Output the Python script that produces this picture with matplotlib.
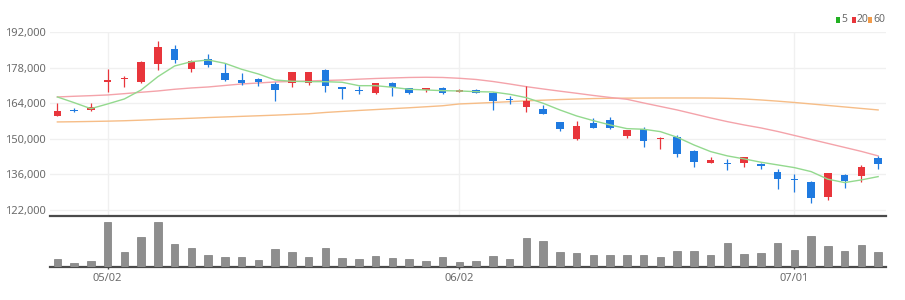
import matplotlib
matplotlib.use("Agg")
import matplotlib.pyplot as plt
from matplotlib.patches import Rectangle
from matplotlib.ticker import FuncFormatter, FixedLocator

plt.rcParams["font.family"] = ["Liberation Sans Narrow", "Noto Sans", "DejaVu Sans"]

# trading days (2022, KRX), MM/DD
dates = [
    "04/27", "04/28", "04/29", "05/02", "05/03", "05/04", "05/06", "05/09", "05/10", "05/11",
    "05/12", "05/13", "05/16", "05/17", "05/18", "05/19", "05/20", "05/23", "05/24", "05/25",
    "05/26", "05/27", "05/30", "05/31", "06/02", "06/03", "06/07", "06/08", "06/09", "06/10",
    "06/13", "06/14", "06/15", "06/16", "06/17", "06/20", "06/21", "06/22", "06/23", "06/24",
    "06/27", "06/28", "06/29", "06/30", "07/01", "07/04", "07/05", "07/06", "07/07", "07/08",
]
opens = [
    159100, 161300, 161300, 172300, 173500, 172200, 179400, 185200, 177400, 181300,
    176000, 173100, 173400, 171400, 171800, 171800, 177100, 170300, 169300, 167900,
    172100, 170000, 169100, 169900, 168400, 169200, 168100, 165800, 162400, 161600,
    156700, 149800, 156300, 157300, 151100, 153700, 149800, 150600, 145100, 140600,
    140500, 140600, 140100, 137100, 134200, 133100, 127200, 135900, 135500, 142600,
]
highs = [
    164200, 162000, 164000, 177300, 174800, 180600, 188500, 186900, 181000, 183300,
    179700, 175800, 173800, 172500, 176400, 176300, 177300, 170300, 170800, 172000,
    172400, 170100, 170100, 170300, 169400, 169700, 168500, 166900, 170900, 163200,
    156700, 157000, 158100, 158700, 153600, 154800, 150600, 151600, 145600, 142800,
    142200, 142900, 140400, 138000, 136000, 133500, 136400, 136000, 139700, 143200,
]
lows = [
    158900, 160400, 161000, 168500, 170300, 172000, 177000, 179700, 176400, 178100,
    172600, 171200, 170900, 165000, 170500, 171000, 168500, 165600, 167700, 167700,
    166900, 167800, 168400, 167500, 168200, 167900, 161200, 163700, 160500, 159700,
    153200, 149500, 154300, 153700, 150400, 146900, 145900, 143000, 139000, 140500,
    137700, 138800, 138000, 130100, 129200, 124600, 125900, 130500, 133100, 138000,
]
closes = [
    161000, 160800, 162500, 173000, 174000, 180300, 186200, 181000, 180700, 179100,
    173100, 172100, 172300, 169100, 176200, 176200, 170800, 169500, 168900, 171800,
    170300, 168000, 170000, 168100, 169200, 168100, 165000, 165100, 164700, 159800,
    153800, 155000, 154400, 154200, 153500, 149200, 150400, 144000, 140800, 141500,
    140100, 142800, 139200, 134200, 133800, 126600, 136400, 133500, 138800, 140000,
]
ma5 = [
    166440, 164200, 161840, 163690, 165650, 169190, 174420, 178630, 180320, 180990,
    179690, 177330, 175480, 173120, 172610, 172450, 172450, 172220, 170880, 170880,
    170250, 169460, 169190, 168920, 168800, 168520, 168400, 167500, 166160, 163960,
    161330, 158970, 157120, 155430, 153980, 153740, 152800, 150600, 147570, 144940,
    143250, 142070, 140770, 139710, 138640, 137070, 134080, 132750, 133800, 135100,
]
ma20 = [
    166440, 166710, 166950, 167230, 167740, 168290, 168800, 169470, 169980, 170370,
    170960, 171550, 171940, 172340, 172530, 172730, 172930, 173120, 173440, 173710,
    173910, 174110, 174190, 174110, 173790, 173320, 172530, 171550, 170490, 169580,
    168720, 167890, 167030, 166240, 165530, 164080, 162700, 161330, 159760, 158190,
    156730, 155430, 154260, 152870, 151300, 149730, 148160, 146590, 145020, 143250,
]
ma60 = [
    156610, 156690, 156800, 156920, 157080, 157310, 157590, 157830, 158060, 158340,
    158570, 158810, 159040, 159280, 159560, 159830, 160340, 160740, 161130, 161480,
    161840, 162190, 162580, 162980, 163690, 163960, 164270, 164590, 164900, 165180,
    165420, 165610, 165810, 165930, 165970, 166010, 166040, 166040, 166040, 166010,
    165890, 165650, 165260, 164790, 164270, 163690, 163100, 162510, 161920, 161330,
]
# volume, thousand shares
volumes = [
    250, 120, 190, 1350, 450, 890, 1340, 700, 570, 370,
    310, 290, 210, 530, 440, 310, 560, 270, 250, 330,
    270, 230, 190, 310, 160, 170, 330, 230, 860, 770,
    440, 410, 370, 370, 350, 350, 300, 490, 490, 370,
    720, 390, 410, 720, 500, 930, 620, 470, 650, 440,
]
price_ticks = [122000, 136000, 150000, 164000, 178000, 192000]

UP = "#e8353b"
DOWN = "#1f7ae0"

fig = plt.figure(figsize=(9.05, 3.0), dpi=100)
ax = fig.add_axes([50 / 905, 1 - 216 / 300, 836 / 905, 184 / 300])
axv = fig.add_axes([50 / 905, 1 - 267 / 300, 836 / 905, 48 / 300], sharex=ax)

xs = list(range(len(dates)))
month_starts = [i for i in xs if i == 0 or dates[i][:2] != dates[i - 1][:2]][1:]

# candles
for i in xs:
    o, h, l, c = opens[i], highs[i], lows[i], closes[i]
    col = UP if c >= o else DOWN
    ax.vlines(i, l, h, color=col, linewidth=0.9, zorder=3)
    body = max(abs(c - o), 350)
    ax.bar(i, body, bottom=min(o, c), width=0.46, color=col, linewidth=0, zorder=4)

ax.plot(xs, ma60, color="#f6bd87", linewidth=1.0, zorder=2)
ax.plot(xs, ma20, color="#f4a3aa", linewidth=1.0, zorder=2)
ax.plot(xs, ma5, color="#93d98e", linewidth=1.0, zorder=5)

ax.set_xlim(-0.44, 49.47)
ax.set_ylim(119600, 192000)
ax.yaxis.set_major_locator(FixedLocator(price_ticks))
ax.yaxis.set_major_formatter(FuncFormatter(lambda v, p: f"{int(v):,}"))
ax.tick_params(axis="y", length=0, pad=3, labelsize=8, labelcolor="#6b6b6b")
ax.tick_params(axis="x", length=0, labelbottom=False)
ax.set_xticks(month_starts)
ax.grid(True, color="#f0f0f0", linewidth=1.0, zorder=0)
for s in ["top", "right", "left"]:
    ax.spines[s].set_visible(False)
ax.spines["bottom"].set_color("#4a4a4a")
ax.spines["bottom"].set_linewidth(1.6)

# volume
axv.bar(xs, volumes, width=0.46, color="#8e8e8e", edgecolor="#7a7a7a", linewidth=0.5, zorder=3)
axv.set_ylim(0, 1440)
axv.set_yticks([])
axv.set_xticks(month_starts)
axv.set_xticklabels([dates[i] for i in month_starts])
axv.tick_params(axis="x", length=3, width=1, color="#444444", pad=3,
                labelsize=8, labelcolor="#6b6b6b", direction="inout")
for s in ["top", "right", "left"]:
    axv.spines[s].set_visible(False)
axv.spines["bottom"].set_color("#4a4a4a")
axv.spines["bottom"].set_linewidth(1.6)

# legend (small coloured bars + labels, top right)
legend_items = [("5", "#22b022", 836), ("20", "#e8353b", 852), ("60", "#f39c4a", 868)]
for label, col, px in legend_items:
    fig.add_artist(Rectangle((px / 905, 1 - 23 / 300), 4 / 905, 6 / 300,
                             facecolor=col, edgecolor="none", transform=fig.transFigure))
    fig.text((px + 5) / 905, 1 - 20 / 300, label, color="#6b6b6b", fontsize=7.5,
             va="center", ha="left")

fig.savefig("out.png", dpi=100, facecolor="white")
